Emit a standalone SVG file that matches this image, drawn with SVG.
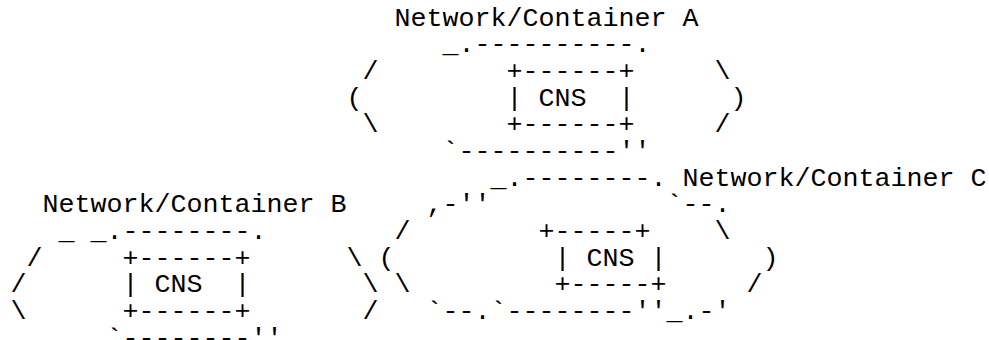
<svg xmlns="http://www.w3.org/2000/svg" width="989" height="340" viewBox="0 0 989 340">
<style>
text { font-family: "Liberation Mono", "Courier New", monospace; font-size: 26.667px; fill: #000; white-space: pre; }
</style>
<rect width="989" height="340" fill="#fff"/>
<g id="container-a">
<text x="394.5" y="25.5">Network/Container A</text>
<text x="442.5" y="52.2">_.----------.</text>
<text x="362.5" y="78.8">/</text><text x="714.5" y="78.8">\</text>
<text x="346.5" y="105.5">(</text><text x="730.5" y="105.5">)</text>
<text x="362.5" y="132.2">\</text><text x="714.5" y="132.2">/</text>
<text x="442.5" y="158.8">`----------''</text>
</g>
<g id="cns-a">
<text x="506.5" y="78.8">+------+</text>
<text x="506.5" y="105.5" xml:space="preserve">| CNS  |</text>
<text x="506.5" y="132.2">+------+</text>
</g>
<g id="container-b">
<text x="42.5" y="212.2">Network/Container B</text>
<text x="58.5" y="238.8" xml:space="preserve">_ _.--------.</text>
<text x="26.5" y="265.5">/</text><text x="346.5" y="265.5">\</text>
<text x="10.5" y="292.2">/</text><text x="362.5" y="292.2">\</text>
<text x="10.5" y="318.8">\</text><text x="362.5" y="318.8">/</text>
<text x="106.5" y="345.5">`--------''</text>
</g>
<g id="cns-b">
<text x="122.5" y="265.5">+------+</text>
<text x="122.5" y="292.2" xml:space="preserve">| CNS  |</text>
<text x="122.5" y="318.8">+------+</text>
</g>
<g id="container-c">
<text x="490.5" y="185.5">_.--------.</text>
<text x="682.5" y="185.5">Network/Container C</text>
<text x="426.5" y="212.2">,-''</text><text x="666.5" y="212.2">`--.</text>
<text x="394.5" y="238.8">/</text><text x="714.5" y="238.8">\</text>
<text x="378.5" y="265.5">(</text><text x="762.5" y="265.5">)</text>
<text x="394.5" y="292.2">\</text><text x="746.5" y="292.2">/</text>
<text x="426.5" y="318.8">`--.`--------''_.-'</text>
</g>
<g id="cns-c">
<text x="538.5" y="238.8">+-----+</text>
<text x="554.5" y="265.5" xml:space="preserve">| CNS |</text>
<text x="554.5" y="292.2">+-----+</text>
</g>
<g id="connectors"/>
</svg>
